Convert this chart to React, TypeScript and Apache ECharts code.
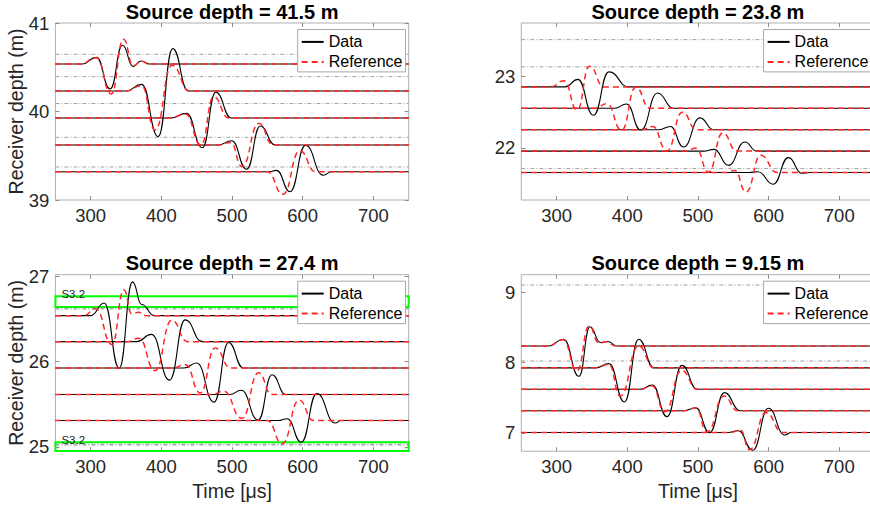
import React, { useEffect, useRef } from 'react';
import * as echarts from 'echarts';

const FONT = '"Liberation Sans", Arial, Helvetica, sans-serif';

const titles = ['Source depth = 41.5 m', 'Source depth = 23.8 m', 'Source depth = 27.4 m', 'Source depth = 9.15 m'];
const xRange = [250, 750];
const xTicks = [300, 400, 500, 600, 700];
const yRanges = [[39, 41], [21.27, 23.75], [24.95, 27.02], [6.74, 9.25]];
const yTicks = [[39, 40, 41], [22, 23], [25, 26, 27], [7, 8, 9]];
const legendNames = ['Data', 'Reference'];
const xName = 'Time [μs]';
const yName = 'Receiver depth (m)';

// Panel 1 (source 41.5 m): receiver depths and wavelet key points [time, offset]
const p1Base = [40.537, 40.232, 39.927, 39.621, 39.32];
const p1Data = [
  [[288, 0], [308, 0.075], [327.5, -0.283], [345, 0.211], [360, -0.03], [371, 0.034], [383, 0]],
  [[350, 0], [372, 0.075], [395.5, -0.516], [416, 0.478], [438, 0]],
  [[413, 0], [435.5, 0.052], [458, -0.336], [477, 0.29], [499, 0]],
  [[480, 0], [499.5, 0.049], [520.6, -0.274], [540, 0.215], [561, 0]],
  [[553, 0], [563, 0.015], [582, -0.226], [604, 0.297], [629, -0.04], [641, 0]],
];
const p1Ref = [
  [[285, 0], [308, 0.07], [329, -0.34], [346.5, 0.28], [360, -0.02], [372, 0.03], [383, 0]],
  [[350, 0], [372, 0.06], [391, -0.44], [415, 0.29], [440, 0]],
  [[412, 0], [434, 0.045], [456, -0.305], [474, 0.24], [495, 0]],
  [[480, 0], [498, 0.03], [514, -0.244], [538, 0.245], [558, 0]],
  [[550, 0], [572, -0.256], [596, 0.237], [618, 0]],
];
const p1Dotted = [40.646, 40.394, 40.09, 39.708, 39.373];

// Panel 2 (source 23.8 m)
const p2Base = [22.855, 22.555, 22.255, 21.955, 21.655];
const p2Data = [
  [[312, 0], [330, 0.105], [352, -0.398], [374, 0.21], [402, 0]],
  [[382, 0], [399, 0.06], [419, -0.305], [443, 0.215], [465, 0]],
  [[445, 0], [461, 0.045], [479.5, -0.242], [503, 0.165], [522, 0]],
  [[508, 0], [523, 0.025], [543, -0.199], [566.5, 0.128], [583, 0]],
  [[572, 0], [585, 0.01], [606.5, -0.165], [628, 0.209], [647, -0.01], [658, 0]],
];
const p2Ref = [
  [[292, 0], [310.5, 0.085], [329, -0.325], [346.5, 0.29], [367, 0]],
  [[355, 0], [371, 0.065], [392, -0.308], [412, 0.295], [432, 0]],
  [[420, 0], [436, 0.045], [456, -0.3], [478, 0.245], [498, 0]],
  [[482, 0], [497, 0.04], [515, -0.295], [535, 0.255], [555, 0]],
  [[540, 0], [552, 0.03], [568, -0.273], [589, 0.241], [612, 0]],
];
const p2Dotted = [23.517, 23.135, 21.71];

// Panel 3 (source 27.4 m)
const p3Base = [26.54, 26.235, 25.925, 25.615, 25.31];
const p3Data = [
  [[300, 0], [319, 0.148], [340.3, -0.617], [359.2, 0.396], [372, 0.13], [390, 0]],
  [[365, 0], [386, 0.085], [411.5, -0.452], [433.5, 0.255], [458, 0]],
  [[432, 0], [450, 0.06], [474.5, -0.4], [495, 0.3], [516, 0]],
  [[497, 0], [513, 0.05], [537, -0.3], [556.5, 0.232], [576, 0]],
  [[565, 0], [578, 0.02], [598, -0.255], [620, 0.315], [646, -0.03], [654, 0]],
];
const p3Ref = [
  [[290, 0], [307, 0.08], [330, -0.34], [347, 0.3], [358, 0.02], [368, 0.04], [378, 0]],
  [[352, 0], [368, 0.04], [391, -0.34], [414.6, 0.25], [437, 0]],
  [[415, 0], [434, 0.04], [455, -0.292], [476, 0.235], [498, 0]],
  [[472, 0], [488, 0.04], [514, -0.28], [537.5, 0.255], [556, 0]],
  [[550, 0], [571, -0.27], [595, 0.24], [615, 0]],
];
const p3Dotted = [26.628, 26.618, 25.032, 25.022];
const p3Boxes = [[26.641, 26.767], [24.952, 25.055]];
const p3BoxLabel = 'S3.2';

// Panel 4 (source 9.15 m)
const p4Base = [8.235, 7.925, 7.62, 7.315, 7.005];
const p4Data = [
  [[288, 0], [309.8, 0.098], [331.6, -0.43], [347.2, 0.275], [362, 0.05], [372, 0.065], [386, 0]],
  [[355, 0], [374, 0.06], [396, -0.485], [416, 0.407], [438, 0]],
  [[418, 0], [435.4, 0.06], [456.2, -0.388], [477.4, 0.34], [499, 0]],
  [[480, 0], [496.7, 0.043], [516.5, -0.312], [537.5, 0.258], [560, 0]],
  [[540, 0], [557, 0.025], [577.5, -0.251], [599.6, 0.345], [623, -0.035], [632, 0]],
];
const p4Ref = [
  [[288, 0], [309, 0.09], [329, -0.355], [346, 0.285], [360, 0.04], [370, 0.06], [384, 0]],
  [[355, 0], [374, 0.05], [390, -0.4], [416, 0.31], [438, 0]],
  [[418, 0], [435, 0.05], [453, -0.32], [477, 0.27], [499, 0]],
  [[480, 0], [497, 0.04], [513, -0.3], [537, 0.21], [556, 0]],
  [[545, 0], [560, 0.035], [573, -0.245], [596.3, 0.282], [620, 0]],
];
const p4Dotted = [9.103, 8.023];

const panels = [
  { base: p1Base, data: p1Data, ref: p1Ref, dotted: p1Dotted, boxes: [] as number[][] },
  { base: p2Base, data: p2Data, ref: p2Ref, dotted: p2Dotted, boxes: [] as number[][] },
  { base: p3Base, data: p3Data, ref: p3Ref, dotted: p3Dotted, boxes: p3Boxes },
  { base: p4Base, data: p4Data, ref: p4Ref, dotted: p4Dotted, boxes: [] as number[][] },
];

// layout (pixels)
const layout = [
  { left: 55.4, top: 23, width: 353.3, height: 177 },
  { left: 521.3, top: 23, width: 353.3, height: 177 },
  { left: 55.4, top: 274.7, width: 353.3, height: 176.5 },
  { left: 521.3, top: 274.7, width: 353.3, height: 176.5 },
];

const TICK_COLOR = '#8c8c8c';
const LABEL_COLOR = '#262626';

function buildTrace(base: number, pts: number[][]) {
  const out: number[][] = [[xRange[0], base]];
  pts.forEach(([t, o]) => out.push([t, base + o]));
  out.push([xRange[1], base]);
  return out;
}

function buildOption() {
  const grid: any[] = [];
  const xAxis: any[] = [];
  const yAxis: any[] = [];
  const series: any[] = [];
  const legend: any[] = [];
  const graphic: any[] = [];

  panels.forEach((p, i) => {
    const l = layout[i];
    const isBottom = i >= 2;
    const isLeft = i % 2 === 0;
    grid.push({
      left: l.left, top: l.top, width: l.width, height: l.height,
      show: true, borderColor: '#b0b0b0', borderWidth: 1, backgroundColor: 'transparent',
      outerBoundsMode: 'none', containLabel: false,
    });
    const tickStyle = { show: true, inside: true, length: 4, lineStyle: { color: TICK_COLOR, width: 1 }, customValues: xTicks };
    xAxis.push({
      gridIndex: i, type: 'value', min: xRange[0], max: xRange[1], position: 'bottom',
      axisLine: { show: false }, splitLine: { show: false },
      axisTick: tickStyle,
      axisLabel: { customValues: xTicks, color: LABEL_COLOR, fontSize: 18.5, fontFamily: FONT, margin: 6 },
      name: isBottom ? xName : '', nameLocation: 'middle', nameGap: 30, nameMoveOverlap: false,
      nameTextStyle: { fontSize: 19.5, fontFamily: FONT, color: LABEL_COLOR },
    });
    xAxis.push({
      gridIndex: i, type: 'value', min: xRange[0], max: xRange[1], position: 'top',
      axisLine: { show: false }, splitLine: { show: false },
      axisTick: tickStyle, axisLabel: { show: false },
    });
    const yTickStyle = { show: true, inside: true, length: 4, lineStyle: { color: TICK_COLOR, width: 1 }, customValues: yTicks[i] };
    yAxis.push({
      gridIndex: i, type: 'value', min: yRanges[i][0], max: yRanges[i][1], position: 'left',
      axisLine: { show: false }, splitLine: { show: false },
      axisTick: yTickStyle,
      axisLabel: { customValues: yTicks[i], color: LABEL_COLOR, fontSize: 18.5, fontFamily: FONT, margin: 6 },
      name: isLeft ? yName : '', nameLocation: 'middle', nameGap: 29, nameRotate: 90, nameMoveOverlap: false,
      nameTextStyle: { fontSize: 19.5, fontFamily: FONT, color: LABEL_COLOR },
    });
    yAxis.push({
      gridIndex: i, type: 'value', min: yRanges[i][0], max: yRanges[i][1], position: 'right',
      axisLine: { show: false }, splitLine: { show: false },
      axisTick: yTickStyle, axisLabel: { show: false },
    });

    const xi = i * 2;
    p.dotted.forEach((d, k) => {
      const s: any = {
        type: 'line', xAxisIndex: xi, yAxisIndex: xi, name: 'dotted',
        data: [[xRange[0], d], [xRange[1], d]], symbol: 'none', silent: true, z: 2,
        lineStyle: { color: '#8a8a8a', width: 0.8, type: [4, 2, 1, 2] },
      };
      if (k === 0 && p.boxes.length) {
        s.markArea = {
          silent: true,
          itemStyle: { color: 'rgba(0,0,0,0)', borderColor: '#00ff00', borderWidth: 2 },
          label: { show: true, position: [7, -7], color: '#222', fontSize: 11.5, fontFamily: FONT },
          data: p.boxes.map(([lo, hi]) => [
            { name: p3BoxLabel, coord: [xRange[0], hi] },
            { coord: [xRange[1], lo] },
          ]),
        };
      }
      series.push(s);
    });
    p.data.forEach((pts, j) => {
      series.push({
        type: 'line', name: legendNames[0], xAxisIndex: xi, yAxisIndex: xi,
        data: buildTrace(p.base[j], pts), smooth: 0.5, smoothMonotone: 'x',
        symbol: 'none', silent: true, z: 3,
        lineStyle: { color: '#000000', width: 1.1 },
        itemStyle: { color: '#000000' },
      });
    });
    p.ref.forEach((pts, j) => {
      series.push({
        type: 'line', name: legendNames[1], xAxisIndex: xi, yAxisIndex: xi,
        data: buildTrace(p.base[j], pts), smooth: 0.5, smoothMonotone: 'x',
        symbol: 'none', silent: true, z: 4,
        lineStyle: { color: '#ff2626', width: 1.5, type: [6, 4] },
        itemStyle: { color: '#ff2626' },
      });
    });

    legend.push({
      data: legendNames, orient: 'vertical', left: l.left + 242.3, top: l.top + 6.5,
      padding: [2.4, 3, 0, 3], itemGap: 0, itemWidth: 22, itemHeight: 12,
      itemStyle: { opacity: 0, color: 'rgba(0,0,0,0)', borderWidth: 0 },
      textStyle: { fontSize: 16, fontFamily: FONT, color: '#000', lineHeight: 20 },
      borderColor: '#a8a8a8', borderWidth: 1, backgroundColor: '#ffffff',
      selectedMode: false, z: 10,
    });

    graphic.push({
      type: 'text', x: l.left + l.width / 2, y: l.top - 11.5, silent: true,
      style: {
        text: titles[i], font: `bold 20px ${FONT}`, fill: '#000',
        align: 'center', verticalAlign: 'middle', textAlign: 'center', textVerticalAlign: 'middle',
      },
    });
  });

  return {
    animation: false,
    backgroundColor: '#ffffff',
    grid, xAxis, yAxis, series, legend, graphic,
  };
}

export default function App() {
  const ref = useRef<HTMLDivElement>(null);
  useEffect(() => {
    if (!ref.current) return;
    const chart = echarts.init(ref.current, null, { renderer: 'svg' });
    chart.setOption(buildOption() as any);
    return () => chart.dispose();
  }, []);
  return <div ref={ref} style={{ position: 'fixed', left: 0, top: 0, width: 870, height: 506 }} />;
}
